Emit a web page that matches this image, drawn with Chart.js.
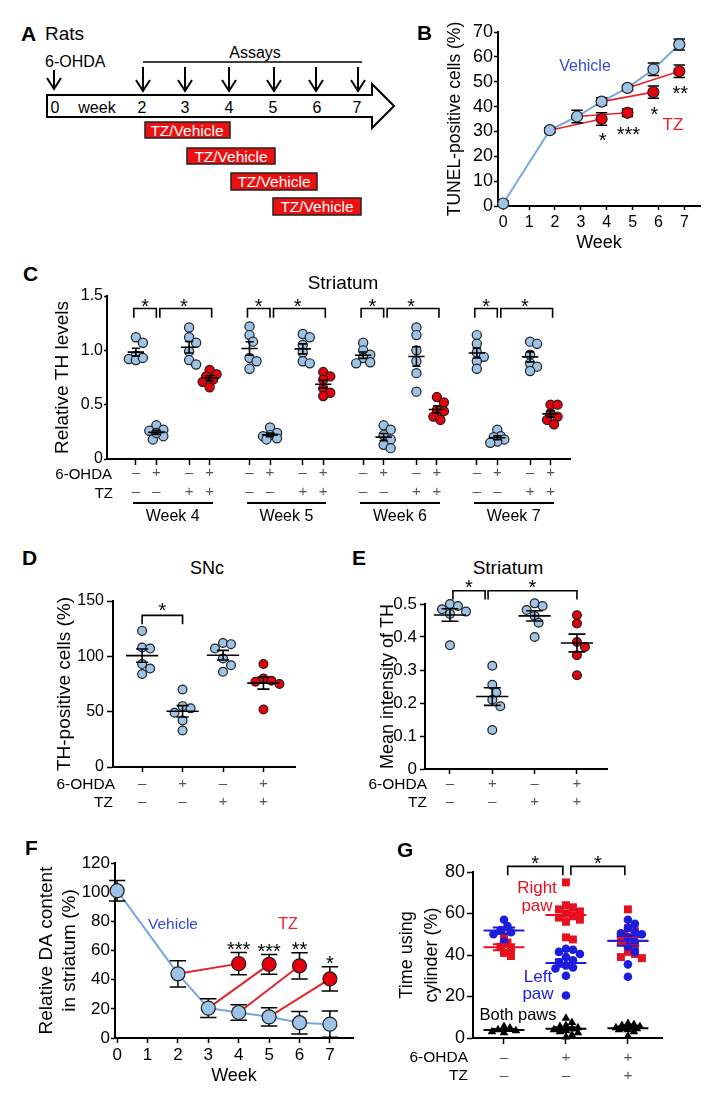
<!DOCTYPE html>
<html>
<head>
<meta charset="utf-8">
<title>TZ / 6-OHDA figure</title>
<script src="https://cdn.jsdelivr.net/npm/chart.js@4.4.1/dist/chart.umd.min.js"></script>
<style>
  html, body { margin: 0; padding: 0; background: #fff; }
  #fig { position: relative; width: 721px; height: 1107px; overflow: hidden; background: #fff;
         font-family: "Liberation Sans", Arial, Helvetica, sans-serif; color: #000; }
  .t { position: absolute; line-height: 1; white-space: nowrap; }
  .under { position: absolute; height: 0; border-top: 2px solid #000; }
  canvas { display: block; }
</style>
</head>
<body>
<div id="fig">
  <!-- A: study timeline (schematic) -->
  <svg width="400" height="222" style="position:absolute;left:0;top:0" font-family="Liberation Sans, Arial, Helvetica, sans-serif">
    <text x="21" y="41" font-size="21" font-weight="bold">A</text>
    <text x="45" y="40" font-size="19">Rats</text>
    <text x="45" y="67" font-size="16">6-OHDA</text>
    <text x="255" y="58" font-size="16" text-anchor="middle">Assays</text>
    <g stroke="#000" stroke-width="2" fill="none">
      <path d="M54 70 V89 M47 78 L54 89 L61 78"/>
      <path d="M143 62 H362" stroke-width="1.6"/>
      <path d="M143 67 V91 M136 80 L143 91 L150 80"/>
      <path d="M185 67 V91 M178 80 L185 91 L192 80"/>
      <path d="M229 67 V91 M222 80 L229 91 L236 80"/>
      <path d="M274 67 V91 M267 80 L274 91 L281 80"/>
      <path d="M316 67 V91 M309 80 L316 91 L323 80"/>
      <path d="M358 67 V91 M351 80 L358 91 L365 80"/>
      <path d="M47 95 H372 V84 L394 106 L372 128 V117 H47 Z" fill="#fff"/>
    </g>
    <g font-size="16" text-anchor="middle">
      <text x="55" y="113">0</text>
      <text x="97" y="113">week</text>
      <text x="142" y="113">2</text>
      <text x="185" y="113">3</text>
      <text x="229" y="113">4</text>
      <text x="273" y="113">5</text>
      <text x="317" y="113">6</text>
      <text x="357" y="113">7</text>
    </g>
    <g fill="#ec1010" stroke="#222" stroke-width="1.5">
      <rect x="145" y="122" width="85" height="16"/>
      <rect x="187" y="148" width="88" height="16"/>
      <rect x="231" y="173" width="86" height="17"/>
      <rect x="273" y="198" width="88" height="17"/>
    </g>
    <g font-size="15.5" fill="#fff" text-anchor="middle">
      <text x="187" y="135.5">TZ/Vehicle</text>
      <text x="231" y="161.5">TZ/Vehicle</text>
      <text x="274" y="187">TZ/Vehicle</text>
      <text x="317" y="212">TZ/Vehicle</text>
    </g>
  </svg>
</div>
<script>
// ---- B: TUNEL-positive cells (%) ----
const weekTicks = [0, 1, 2, 3, 4, 5, 6, 7];
const weeksB = [0, 1.8, 2.85, 3.8, 4.8, 5.8, 6.8];
const tunelVehicle = [1, 30.5, 36, 42, 47.5, 55, 65];
const tunelVehicleSem = [1, 1, 2.5, 1.5, 1, 2.5, 2.2];
const weeksTzB = [3.8, 4.8, 5.8, 6.8];
const tunelTz = [35, 37.5, 45.8, 54.2];
const tunelTzSem = [2.5, 1.5, 2.5, 2.5];
const starsB = ['*', '***', '*', '**'];

// ---- C: striatal TH, one row per week ----
const groupsC = ['Week 4', 'Week 5', 'Week 6', 'Week 7'];
const thCtrl = [
  [1.12, 1.07, 0.95, 0.92, 0.91, 0.93],
  [1.22, 1.14, 1.08, 0.93, 0.90, 0.83],
  [1.07, 1.00, 0.96, 0.93, 0.89, 0.88],
  [1.14, 1.06, 0.98, 0.94, 0.90, 0.83]
];
const thOhda = [
  [0.31, 0.27, 0.26, 0.21, 0.18, 0.24],
  [0.29, 0.24, 0.22, 0.21, 0.18, 0.19],
  [0.31, 0.27, 0.22, 0.18, 0.13, 0.10],
  [0.27, 0.21, 0.20, 0.18, 0.16, 0.15]
];
const thTz = [
  [1.21, 1.12, 1.07, 0.99, 0.91, 0.87],
  [1.15, 1.12, 1.05, 0.98, 0.90, 0.88],
  [1.21, 1.14, 1.00, 0.90, 0.79, 0.62],
  [1.08, 1.06, 0.96, 0.88, 0.85, 0.81]
];
const thOhdaTz = [
  [0.82, 0.78, 0.76, 0.73, 0.71, 0.66],
  [0.80, 0.76, 0.73, 0.65, 0.61, 0.58],
  [0.57, 0.52, 0.45, 0.44, 0.39, 0.36],
  [0.50, 0.50, 0.42, 0.39, 0.36, 0.32]
];
const ohdaSigns = ['–', '+', '–', '+'];
const tzSigns = ['–', '–', '+', '+'];

// ---- D: SNc TH-positive cells (%) ----
const sncCtrl = [123, 108, 107, 93, 89, 84];
const sncOhda = [70, 55, 53, 49, 42, 33];
const sncTz = [112, 111, 107, 98, 92, 86];
const sncOhdaTz = [93, 80, 78, 77, 75, 52];

// ---- E: striatum mean TH intensity ----
const stCtrl = [0.50, 0.494, 0.484, 0.477, 0.47, 0.375];
const stOhda = [0.313, 0.255, 0.232, 0.21, 0.19, 0.118];
const stTz = [0.502, 0.494, 0.482, 0.464, 0.443, 0.40];
const stOhdaTz = [0.466, 0.441, 0.385, 0.37, 0.345, 0.284];

// ---- F: DA content ----
const weeksF = [0, 2, 3, 4, 5, 6, 7];
const daVehicle = [101, 44, 20.5, 17.5, 14.5, 10.5, 9.5];
const daVehicleSem = [7, 9, 6.5, 5.3, 6.3, 7.7, 9];
const weeksTzF = [4, 5, 6, 7];
const daTz = [51, 50.5, 49.5, 40.5];
const daTzSem = [7.7, 6.8, 9, 8.3];
const starsF = ['***', '***', '**', '*'];

// ---- G: cylinder test ----
const ohdaSignsG = ['–', '+', '+'];
const tzSignsG = ['–', '–', '+'];
const rightPaw = [
  [49, 46, 44, 43, 41, 39.5],
  [75, 64, 63, 62, 61, 60, 59, 58, 57, 56, 48.5, 47.5],
  [62, 53, 51.5, 50, 48.5, 47, 45.5, 44, 41.5, 40.5, 39, 38.5]
];
const leftPaw = [
  [57, 54, 52, 51, 50, 46.5],
  [43, 42.5, 41.5, 40.5, 39, 37.5, 36.5, 35, 34, 33.5, 30, 20.5],
  [57, 55, 53, 50, 51, 50.5, 48.5, 46.5, 44, 41.5, 35.5, 29.5]
];
const bothPaws = [
  [5.5, 4.8, 4, 3.5, 3, 2.5],
  [9.5, 7.5, 6, 5.5, 5, 4.5, 4, 3.5, 3, 2.5, 1.5, 0.5],
  [7, 6.5, 6, 5.5, 5, 5, 4.5, 4.5, 4, 4, 3, 1]
];

// colours
const BLUE_FILL = '#9dc3e6';
const RED_FILL = '#e6000c';
const EDGE = '#1e1e1e';
const VEH_LINE = '#78a6e4';
const TZ_LINE = '#e4252b';
const TEXT_BLUE = '#3346d9';
const TEXT_RED = '#e4252b';
const G_BLUE = '#1c1cdc';
const G_RED = '#e8101e';
const SIGN = '#555';

Chart.defaults.font.family = '"Liberation Sans", Arial, Helvetica, sans-serif';
Chart.defaults.color = '#000';
Chart.defaults.animation = false;

const fig = document.getElementById('fig');

// small helpers
const mean = a => a.reduce((s, v) => s + v, 0) / a.length;
const sem = a => {
  const m = mean(a);
  return Math.sqrt(a.reduce((s, v) => s + (v - m) * (v - m), 0) / (a.length - 1) / a.length);
};

function poly(lines) {
  const out = [];
  lines.forEach(line => {
    line.forEach(([x, y]) => out.push({ x, y }));
    out.push({ x: line[0][0], y: null });
  });
  return out;
}
const bracket = (x1, x2, lo, hi) => [[x1, lo], [x1, hi], [x2, hi], [x2, lo]];
const meanBars = (x, m, e, hw, hc) => [
  [[x - hw, m], [x + hw, m]],
  [[x, m - e], [x, m + e]],
  [[x - hc, m + e], [x + hc, m + e]],
  [[x - hc, m - e], [x + hc, m - e]]
];
const errBars = (pts, errs, hc) => pts.flatMap((p, i) => [
  [[p.x, p.y - errs[i]], [p.x, p.y + errs[i]]],
  [[p.x - hc, p.y + errs[i]], [p.x + hc, p.y + errs[i]]],
  [[p.x - hc, p.y - errs[i]], [p.x + hc, p.y - errs[i]]]
]);

// simple beeswarm: nudge overlapping dots sideways, kept within +-maxDx px
function swarm(vals, center, kx, ky, minD, maxDx) {
  const placed = [];
  const xs = new Array(vals.length);
  const idx = vals.map((_, i) => i).sort((a, b) => vals[b] - vals[a]);
  const step = minD * 0.5;
  idx.forEach(i => {
    const py = vals[i] * ky;
    let best = 0, bestD = -1;
    for (let k = 0; ; k++) {
      const cand = (k % 2 ? 1 : -1) * Math.ceil(k / 2) * step;
      if (Math.abs(cand) > maxDx) break;
      const d = placed.reduce((m, p) => Math.min(m, Math.hypot(p.x - cand, p.y - py)), Infinity);
      if (d >= minD) { best = cand; break; }
      if (d > bestD) { bestD = d; best = cand; }
    }
    placed.push({ x: best, y: py });
    xs[i] = center + best / kx;
  });
  return xs;
}

const lineDs = (data, color, width) => ({
  data, showLine: true, borderColor: color, borderWidth: width,
  pointRadius: 0, spanGaps: false, clip: false
});
const dotDs = (data, fill, r, style, border) => ({
  data, showLine: false, pointStyle: style || 'circle', pointRadius: r,
  pointBackgroundColor: fill, pointBorderColor: border === undefined ? EDGE : fill,
  pointBorderWidth: border === undefined ? 1.2 : border, clip: false
});

function txt(s, x, y, size, o = {}) {
  const d = document.createElement('div');
  d.className = 't';
  d.textContent = s;
  const tx = o.align === 'right' ? '-100%' : o.align === 'left' ? '0' : '-50%';
  d.style.left = x + 'px';
  d.style.top = (y + (o.star ? size * 0.22 : 0)) + 'px';
  d.style.fontSize = size + 'px';
  d.style.transform = 'translate(' + tx + ', -50%)';
  if (o.color) d.style.color = o.color;
  if (o.bold) d.style.fontWeight = 'bold';
  fig.appendChild(d);
}
function underline(x1, x2, y) {
  const d = document.createElement('div');
  d.className = 'under';
  d.style.left = x1 + 'px';
  d.style.top = (y - 1) + 'px';
  d.style.width = (x2 - x1) + 'px';
  fig.appendChild(d);
}

function noPad(s) { s.paddingLeft = 0; s.paddingRight = 0; s.paddingTop = 0; s.paddingBottom = 0; }

function xScale(rect, area, o) {
  return {
    type: 'linear', position: 'bottom', min: o.min, max: o.max,
    afterBuildTicks: s => { s.ticks = o.ticks.map(v => ({ value: v })); },
    ticks: {
      autoSkip: false, maxRotation: 0, color: o.tickColor || '#000', padding: o.pad,
      font: { size: o.tickSize, lineHeight: o.tickLh || 1.2 },
      callback: (v, i) => (o.labels ? o.labels[i] : v)
    },
    grid: { display: true, drawOnChartArea: false, drawTicks: true, tickLength: o.tl, tickWidth: 1.5, tickColor: '#000' },
    border: { display: true, color: '#000', width: 2 },
    title: o.title ? {
      display: true, text: o.title, color: '#000', font: { size: o.titleSize, lineHeight: 1.2 },
      padding: { top: 0, bottom: rect.y + rect.h - o.titleY - o.titleSize * 0.6 }
    } : { display: false },
    afterFit: s => { s.height = rect.y + rect.h - area.b; noPad(s); }
  };
}
function yScale(rect, area, o) {
  const lh = o.titleSize * (o.titleLh || 1.2);
  return {
    type: 'linear', position: 'left', min: o.min, max: o.max,
    ticks: { stepSize: o.step, color: '#000', padding: o.pad, font: { size: o.tickSize } },
    grid: { display: true, drawOnChartArea: false, drawTicks: true, tickLength: o.tl, tickWidth: 1.5, tickColor: '#000' },
    border: { display: true, color: '#000', width: 2 },
    title: {
      display: true, text: o.title, color: '#000', font: { size: o.titleSize, lineHeight: o.titleLh || 1.2 },
      padding: { top: o.titleX - rect.x - lh / 2, bottom: 0 }
    },
    afterFit: s => { s.width = area.l - rect.x; noPad(s); }
  };
}

function makeChart(rect, area, xo, yo, datasets) {
  const wrap = document.createElement('div');
  wrap.style.cssText = 'position:absolute;left:' + rect.x + 'px;top:' + rect.y + 'px;width:' + rect.w + 'px;height:' + rect.h + 'px';
  const cv = document.createElement('canvas');
  cv.width = rect.w; cv.height = rect.h;
  cv.style.width = rect.w + 'px'; cv.style.height = rect.h + 'px';
  wrap.appendChild(cv);
  fig.appendChild(wrap);
  const chart = new Chart(cv, {
    type: 'scatter',
    data: { datasets },
    options: {
      responsive: false, animation: false, events: [],
      layout: { padding: { left: 0, top: area.t - rect.y, right: rect.x + rect.w - area.r, bottom: 0 } },
      plugins: { legend: { display: false }, tooltip: { enabled: false } },
      scales: { x: xScale(rect, area, xo), y: yScale(rect, area, yo) }
    }
  });
  chart.$rect = rect;
  return chart;
}
const px = (chart, x, y) => ({
  x: chart.$rect.x + chart.scales.x.getPixelForValue(x),
  y: chart.$rect.y + chart.scales.y.getPixelForValue(y)
});

// ================= B =================
const rectB = { x: 430, y: 18, w: 282, h: 252 };
const areaB = { l: 498, t: 32, r: 700, b: 206 };
const vehPtsB = weeksB.map((w, i) => ({ x: w, y: tunelVehicle[i] }));
const tzPtsB = weeksTzB.map((w, i) => ({ x: w, y: tunelTz[i] }));
const chartB = makeChart(rectB, areaB,
  { min: -0.2, max: 7.6, ticks: weekTicks, tickSize: 16, tl: 4, pad: 3, title: 'Week', titleSize: 18, titleY: 243 },
  { min: 0, max: 70, step: 10, tickSize: 18, tl: 4, pad: 1, title: 'TUNEL-positive cells (%)', titleSize: 17.5, titleX: 455 },
  [
    dotDs(tzPtsB, RED_FILL, 5.5),
    dotDs(vehPtsB, BLUE_FILL, 5.5),
    lineDs(poly([...errBars(vehPtsB, tunelVehicleSem, 0.22), ...errBars(tzPtsB, tunelTzSem, 0.22)]), '#000', 1.5),
    lineDs(poly(tzPtsB.map((p, i) => [[vehPtsB[i + 1].x, vehPtsB[i + 1].y], [p.x, p.y]])), TZ_LINE, 1.6),
    lineDs(vehPtsB, VEH_LINE, 2)
  ]);
txt('B', 417, 32, 21, { align: 'left', bold: true });
txt('Vehicle', 585, 66, 16, { color: TEXT_BLUE });
txt('TZ', 673, 124, 17, { color: TEXT_RED });
tzPtsB.forEach((p, i) => {
  const q = px(chartB, p.x, p.y);
  txt(starsB[i], q.x + 1, q.y + 17, 20, { star: true });
});

// ================= C =================
const rectC = { x: 25, y: 285, w: 560, h: 245 };
const areaC = { l: 107, t: 296, r: 570, b: 459 };
const slotC = [0, 1, 2.6, 3.6];
const colX = (g, c) => g * 5.55 + slotC[c];
const seriesC = [thCtrl, thOhda, thTz, thOhdaTz];
const ticksC = [], labelsC = [];
groupsC.forEach((_, g) => slotC.forEach((_, c) => {
  ticksC.push(colX(g, c));
  labelsC.push([ohdaSigns[c], tzSigns[c]]);
}));
const bluePtsC = [], redPtsC = [], barsC = [], bracketsC = [];
groupsC.forEach((_, g) => seriesC.forEach((ser, c) => {
  const vals = ser[g];
  const xs = swarm(vals, colX(g, c), 20.48, 108.7, 7, 10);
  (c === 3 ? redPtsC : bluePtsC).push(...vals.map((v, i) => ({ x: xs[i], y: v })));
  barsC.push(...meanBars(colX(g, c), mean(vals), sem(vals), 0.4, 0.2));
}));
groupsC.forEach((_, g) => {
  bracketsC.push(bracket(colX(g, 0) - 0.1, colX(g, 1), 1.30, 1.385));
  bracketsC.push(bracket(colX(g, 1) + 0.17, colX(g, 3) + 0.1, 1.30, 1.385));
});
const chartC = makeChart(rectC, areaC,
  { min: -1.41, max: 21.2, ticks: ticksC, labels: labelsC, tickSize: 15, tickLh: 1.27, tickColor: SIGN, tl: 6, pad: -1.5 },
  { min: 0, max: 1.5, step: 0.5, tickSize: 16, tl: 3, pad: 1, title: 'Relative TH levels', titleSize: 19, titleX: 63 },
  [
    lineDs(poly(barsC), '#000', 1.6),
    dotDs(redPtsC, RED_FILL, 4.6),
    dotDs(bluePtsC, BLUE_FILL, 4.6),
    lineDs(poly(bracketsC), '#000', 1.6)
  ]);
txt('C', 23, 273, 21, { align: 'left', bold: true });
txt('Striatum', 343, 282, 19);
txt('6-OHDA', 112, 473, 15, { align: 'right' });
txt('TZ', 113, 492, 15, { align: 'right' });
groupsC.forEach((name, g) => {
  const a = px(chartC, colX(g, 0), 1.385), b = px(chartC, colX(g, 1), 1.385), d = px(chartC, colX(g, 3), 1.385);
  txt('*', (a.x + b.x) / 2 - 1, a.y - 7, 20, { star: true });
  txt('*', (b.x + d.x) / 2 + 1, a.y - 7, 20, { star: true });
  underline(a.x - 3, d.x + 3, 503);
  txt(name, (a.x + d.x) / 2, 516, 16);
});

// ================= D =================
const rectD = { x: 25, y: 590, w: 280, h: 225 };
const areaD = { l: 113, t: 601, r: 295, b: 767 };
const seriesD = [sncCtrl, sncOhda, sncTz, sncOhdaTz];
const bluePtsD = [], redPtsD = [], barsD = [];
seriesD.forEach((vals, c) => {
  const xs = swarm(vals, c, 40.4, 1.106, 8, 16);
  (c === 3 ? redPtsD : bluePtsD).push(...vals.map((v, i) => ({ x: xs[i], y: v })));
  barsD.push(...meanBars(c, mean(vals), sem(vals), 0.4, 0.15));
});
const chartD = makeChart(rectD, areaD,
  { min: -0.72, max: 3.78, ticks: [0, 1, 2, 3], labels: ohdaSigns.map((s, i) => [s, tzSigns[i]]), tickSize: 15, tickColor: SIGN, tl: 5, pad: 3 },
  { min: 0, max: 150, step: 50, tickSize: 16, tl: 6, pad: 3, title: 'TH-positive cells (%)', titleSize: 19, titleX: 65 },
  [
    lineDs(poly(barsD), '#000', 1.6),
    dotDs(redPtsD, RED_FILL, 4.4),
    dotDs(bluePtsD, BLUE_FILL, 4.4),
    lineDs(poly([bracket(0, 1, 129, 137)]), '#000', 1.6)
  ]);
txt('D', 22, 557, 21, { align: 'left', bold: true });
txt('SNc', 207, 568, 18);
txt('6-OHDA', 115, 784, 15.5, { align: 'right' });
txt('TZ', 113, 802, 15.5, { align: 'right' });
{
  const q = px(chartD, 0.5, 137);
  txt('*', q.x, q.y - 10, 20, { star: true });
}

// ================= E =================
const rectE = { x: 365, y: 585, w: 255, h: 230 };
const areaE = { l: 425, t: 604, r: 607, b: 769 };
const seriesE = [stCtrl, stOhda, stTz, stOhdaTz];
const bluePtsE = [], redPtsE = [], barsE = [];
seriesE.forEach((vals, c) => {
  const xs = swarm(vals, c, 42.3, 330, 8, 16);
  (c === 3 ? redPtsE : bluePtsE).push(...vals.map((v, i) => ({ x: xs[i], y: v })));
  barsE.push(...meanBars(c, mean(vals), sem(vals), 0.38, 0.2));
});
const chartE = makeChart(rectE, areaE,
  { min: -0.59, max: 3.71, ticks: [0, 1, 2, 3], labels: ohdaSigns.map((s, i) => [s, tzSigns[i]]), tickSize: 15, tickColor: SIGN, tl: 5, pad: 1 },
  { min: 0, max: 0.5, step: 0.1, tickSize: 17, tl: 5, pad: 3, title: 'Mean intensity of TH', titleSize: 18, titleX: 388 },
  [
    lineDs(poly(barsE), '#000', 1.6),
    dotDs(redPtsE, RED_FILL, 4.4),
    dotDs(bluePtsE, BLUE_FILL, 4.4),
    lineDs(poly([bracket(0.07, 0.83, 0.514, 0.54), bracket(0.9, 3.0, 0.514, 0.54)]), '#000', 1.6)
  ]);
txt('E', 352, 557, 21, { align: 'left', bold: true });
txt('Striatum', 508, 567, 19);
txt('6-OHDA', 427, 784, 15.5, { align: 'right' });
txt('TZ', 427, 802, 15.5, { align: 'right' });
[[0.07, 0.83], [0.9, 3.0]].forEach(([a, b]) => {
  const q = px(chartE, (a + b) / 2, 0.54);
  txt('*', q.x, q.y - 8, 20, { star: true });
});

// ================= F =================
const rectF = { x: 25, y: 850, w: 340, h: 240 };
const areaF = { l: 115, t: 863, r: 353, b: 1038 };
const vehPtsF = weeksF.map((w, i) => ({ x: w, y: daVehicle[i] }));
const tzPtsF = weeksTzF.map((w, i) => ({ x: w, y: daTz[i] }));
const chartF = makeChart(rectF, areaF,
  { min: -0.07, max: 7.76, ticks: weekTicks, tickSize: 17, tl: 5, pad: 2, title: 'Week', titleSize: 18, titleY: 1076 },
  { min: 0, max: 120, step: 20, tickSize: 17, tl: 4, pad: 1, title: ['Relative DA content', 'in striatum (%)'], titleSize: 19, titleX: 47 },
  [
    dotDs(tzPtsF, RED_FILL, 7),
    dotDs(vehPtsF, BLUE_FILL, 7),
    lineDs(poly([...errBars(vehPtsF, daVehicleSem, 0.27), ...errBars(tzPtsF, daTzSem, 0.27)]), '#000', 1.5),
    lineDs(poly(tzPtsF.map((p, i) => [[vehPtsF[i + 1].x, vehPtsF[i + 1].y], [p.x, p.y]])), TZ_LINE, 2),
    lineDs(vehPtsF, VEH_LINE, 2)
  ]);
txt('F', 25, 847, 21, { align: 'left', bold: true });
txt('Vehicle', 173, 924, 15.5, { color: TEXT_BLUE });
txt('TZ', 288, 924, 16, { color: TEXT_RED });
tzPtsF.forEach((p, i) => {
  const q = px(chartF, p.x, p.y + daTzSem[i]);
  txt(starsF[i], q.x, q.y - 8, 20, { star: true });
});

// ================= G =================
const rectG = { x: 390, y: 855, w: 290, h: 240 };
const areaG = { l: 473, t: 872, r: 662, b: 1038 };
const redPtsG = [], bluePtsG = [], triPtsG = [], redBarsG = [], blueBarsG = [], blackBarsG = [];
ohdaSignsG.forEach((_, g) => {
  [[rightPaw, redPtsG, redBarsG, 7, 19], [leftPaw, bluePtsG, blueBarsG, 7, 19], [bothPaws, triPtsG, blackBarsG, 6, 14]].forEach(([ser, pts, bars, minD, maxDx]) => {
    const vals = ser[g];
    const xs = swarm(vals, g, 62, 2.075, minD, maxDx);
    pts.push(...vals.map((v, i) => ({ x: xs[i], y: v })));
    bars.push(...meanBars(g, mean(vals), sem(vals), 0.33, 0.18));
  });
});
const chartG = makeChart(rectG, areaG,
  { min: -0.5, max: 2.55, ticks: [0, 1, 2], labels: ohdaSignsG.map((s, i) => [s, tzSignsG[i]]), tickSize: 15.5, tickColor: SIGN, tl: 6, pad: 4 },
  { min: 0, max: 80, step: 20, tickSize: 18, tl: 6, pad: 2, title: ['Time using', 'cylinder (%)'], titleSize: 18, titleLh: 1.39, titleX: 407 },
  [
    lineDs(poly(blueBarsG), G_BLUE, 2),
    lineDs(poly(redBarsG), G_RED, 2),
    lineDs(poly(blackBarsG), '#000', 2),
    dotDs(bluePtsG, G_BLUE, 4.3, 'circle', 0),
    dotDs(redPtsG, G_RED, 5.6, 'rect', 0),
    dotDs(triPtsG, '#000', 5, 'triangle', 0),
    lineDs(poly([bracket(0.06, 0.95, 78.4, 82.7), bracket(1.08, 1.95, 78.4, 82.7)]), '#000', 1.6)
  ]);
txt('G', 397, 849, 21, { align: 'left', bold: true });
txt('Right', 537, 887, 17, { color: G_RED });
txt('paw', 537, 905, 17, { color: G_RED });
txt('Left', 538, 976, 17, { color: G_BLUE });
txt('paw', 538, 993, 17, { color: G_BLUE });
txt('Both paws', 518, 1014, 16.5);
txt('6-OHDA', 468, 1057, 15.5, { align: 'right' });
txt('TZ', 468, 1075, 15.5, { align: 'right' });
[[0.06, 0.95], [1.08, 1.95]].forEach(([a, b]) => {
  const q = px(chartG, (a + b) / 2, 82.7);
  txt('*', q.x, q.y - 8, 20, { star: true });
});
</script>
</body>
</html>
